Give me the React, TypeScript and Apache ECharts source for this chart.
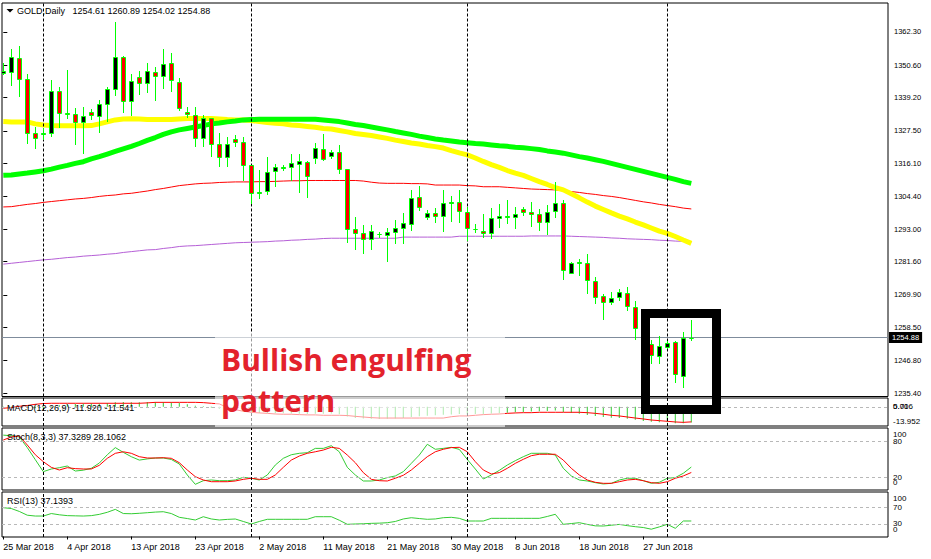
import React, { useEffect, useRef } from "react";
import * as echarts from "echarts";

// ---------- data ----------
const DATE_LABELS = ["25 Mar 2018", "4 Apr 2018", "13 Apr 2018", "23 Apr 2018", "2 May 2018", "11 May 2018", "21 May 2018", "30 May 2018", "8 Jun 2018", "18 Jun 2018", "27 Jun 2018"];
const DATE_LABEL_IDX = [0, 8, 16, 24, 32, 40, 48, 56, 64, 72, 80];
const SEPARATOR_IDX = [5, 31, 58, 83];
const PRICE_TICKS = [1362.3, 1350.6, 1339.2, 1327.5, 1316.1, 1304.4, 1293.0, 1281.6, 1269.9, 1258.5, 1246.8, 1235.4];
const LAST_PRICE = 1254.88;

const OPEN = [
  1347.9, 1348.3, 1353.1, 1345.7, 1326.7, 1326.4, 1326.7, 1341.7, 1333.8, 1333.6,
  1330.8, 1334.1, 1332.8, 1336.9, 1342.3, 1353.4, 1338.2, 1346.4, 1344.3, 1348.3,
  1346.8, 1351.3, 1344.8, 1334.3, 1333.2, 1324.9, 1332.0, 1322.8, 1318.3, 1324.8,
  1323.5, 1315.4, 1305.6, 1306.4, 1313.4, 1314.5, 1314.7, 1315.8, 1316.5, 1317.9,
  1321.1, 1318.7, 1320.0, 1314.0, 1292.9, 1291.5, 1289.4, 1291.2, 1290.8, 1292.1,
  1293.3, 1294.7, 1304.2, 1297.2, 1298.6, 1297.7, 1302.2, 1302.4, 1299.1, 1293.1,
  1292.4, 1291.5, 1296.8, 1297.3, 1297.2, 1300.0, 1298.9, 1298.3, 1295.4, 1299.5,
  1302.3, 1277.7, 1281.2, 1281.0, 1274.7, 1269.5, 1267.4, 1269.3, 1270.4, 1265.7,
  1258.1, 1252.5, 1248.4, 1251.5, 1253.2, 1241.5, 1254.61,
];
const HIGH = [
  1351.3, 1356.3, 1357.4, 1347.4, 1328.8, 1328.7, 1345.4, 1343.1, 1348.9, 1335.5,
  1335.8, 1335.1, 1338.4, 1343.1, 1365.9, 1353.9, 1347.4, 1348.6, 1351.3, 1349.9,
  1356.3, 1354.8, 1346.0, 1335.8, 1336.0, 1333.1, 1332.2, 1326.9, 1325.3, 1326.1,
  1325.3, 1315.6, 1313.8, 1318.3, 1315.9, 1315.5, 1319.4, 1319.4, 1317.0, 1323.4,
  1326.4, 1320.8, 1322.6, 1314.2, 1297.2, 1294.5, 1294.5, 1292.1, 1293.3, 1296.2,
  1298.6, 1306.8, 1308.3, 1299.7, 1300.3, 1306.8, 1304.7, 1306.8, 1300.9, 1294.8,
  1298.3, 1300.3, 1301.8, 1303.2, 1300.9, 1300.9, 1302.4, 1300.1, 1301.5, 1309.5,
  1303.2, 1281.6, 1282.5, 1284.3, 1276.3, 1270.2, 1271.0, 1272.0, 1272.8, 1267.8,
  1259.0, 1254.0, 1255.4, 1253.7, 1253.7, 1256.9, 1260.89,
];
const LOW = [
  1347.6, 1343.7, 1339.9, 1323.4, 1321.4, 1324.7, 1325.9, 1329.0, 1332.0, 1322.9,
  1319.9, 1331.7, 1327.0, 1331.0, 1340.2, 1334.3, 1333.1, 1340.4, 1341.1, 1338.3,
  1342.7, 1341.4, 1334.9, 1332.5, 1322.3, 1322.3, 1318.8, 1315.3, 1315.3, 1322.3,
  1310.3, 1302.1, 1304.1, 1305.4, 1308.3, 1313.8, 1310.3, 1306.2, 1304.4, 1316.4,
  1317.3, 1317.9, 1312.6, 1288.6, 1286.0, 1284.7, 1286.0, 1290.1, 1281.9, 1288.0,
  1288.2, 1292.7, 1299.7, 1296.7, 1295.6, 1292.5, 1296.0, 1295.6, 1289.2, 1292.1,
  1290.3, 1289.8, 1293.9, 1295.1, 1293.3, 1298.0, 1294.2, 1292.7, 1291.3, 1297.4,
  1275.4, 1277.5, 1276.9, 1270.4, 1267.1, 1261.3, 1266.7, 1268.1, 1264.6, 1254.5,
  1250.5, 1245.8, 1245.8, 1251.1, 1239.4, 1237.6, 1254.02,
];
const CLOSE = [
  1348.6, 1353.4, 1345.7, 1326.7, 1324.9, 1326.7, 1341.7, 1333.7, 1333.3, 1330.8,
  1332.9, 1333.1, 1336.9, 1342.2, 1353.4, 1338.2, 1345.0, 1344.3, 1348.6, 1346.8,
  1350.9, 1345.3, 1335.5, 1333.4, 1324.9, 1332.0, 1322.8, 1318.3, 1322.8, 1323.5,
  1315.4, 1305.6, 1306.0, 1313.0, 1314.9, 1314.7, 1316.1, 1316.8, 1311.7, 1321.4,
  1317.8, 1320.2, 1314.0, 1292.9, 1291.7, 1289.4, 1292.4, 1291.4, 1292.1, 1293.3,
  1295.1, 1304.1, 1300.9, 1298.6, 1297.7, 1302.1, 1302.4, 1299.5, 1293.3, 1293.0,
  1291.5, 1296.8, 1297.6, 1297.5, 1298.3, 1299.1, 1298.2, 1295.4, 1299.1, 1302.3,
  1278.6, 1281.0, 1281.4, 1275.1, 1269.3, 1267.4, 1268.7, 1270.8, 1266.0, 1258.1,
  1252.5, 1248.8, 1252.0, 1253.1, 1242.0, 1254.6, 1254.88,
];

const MA_YELLOW = [
  1330.8, 1330.7, 1330.7, 1330.7, 1330.0, 1329.6, 1329.4, 1329.3, 1329.3, 1329.3,
  1329.3, 1329.4, 1330.0, 1330.7, 1331.4, 1331.7, 1331.8, 1331.7, 1331.5, 1331.5,
  1331.5, 1331.5, 1331.7, 1331.9, 1331.9, 1331.9, 1331.9, 1331.7, 1331.5, 1331.4,
  1331.4, 1331.2, 1330.8, 1330.5, 1330.2, 1330.0, 1329.6, 1329.4, 1329.1, 1328.8,
  1328.4, 1328.2, 1327.7, 1327.2, 1326.6, 1326.3, 1325.9, 1325.4, 1324.9, 1324.3,
  1323.8, 1323.3, 1322.9, 1322.4, 1322.0, 1321.5, 1320.6, 1319.8, 1319.1, 1318.0,
  1316.8, 1315.7, 1314.7, 1313.6, 1312.7, 1311.9, 1310.8, 1309.7, 1308.7, 1307.6,
  1306.8, 1305.4, 1304.0, 1302.5, 1301.1, 1299.9, 1298.7, 1297.6, 1296.6, 1295.5,
  1294.5, 1293.4, 1292.3, 1291.5, 1290.4, 1289.2, 1288.0,
];
const MA_GREEN = [
  1311.9, 1312.0, 1312.4, 1312.7, 1313.1, 1313.5, 1314.1, 1314.8, 1315.4, 1316.1,
  1316.7, 1317.7, 1318.5, 1319.4, 1320.3, 1321.2, 1322.1, 1323.1, 1324.2, 1325.2,
  1326.3, 1327.2, 1327.9, 1328.4, 1328.9, 1329.4, 1330.0, 1330.3, 1330.7, 1331.0,
  1331.4, 1331.5, 1331.6, 1331.6, 1331.6, 1331.6, 1331.6, 1331.6, 1331.6, 1331.6,
  1331.4, 1331.1, 1330.8, 1330.3, 1329.8, 1329.4, 1328.9, 1328.4, 1327.9, 1327.3,
  1326.8, 1326.3, 1325.7, 1325.2, 1324.7, 1324.3, 1324.0, 1323.6, 1323.4, 1323.1,
  1322.9, 1322.6, 1322.3, 1322.1, 1321.8, 1321.6, 1321.3, 1321.0, 1320.5, 1320.1,
  1319.7, 1319.1, 1318.5, 1318.0, 1317.4, 1316.8, 1316.1, 1315.4, 1314.7, 1314.0,
  1313.3, 1312.6, 1311.9, 1311.2, 1310.5, 1309.7, 1309.1,
];
const MA_RED = [
  1300.8, 1300.9, 1301.3, 1301.7, 1302.0, 1302.4, 1302.7, 1303.0, 1303.3, 1303.6,
  1303.8, 1304.1, 1304.5, 1304.8, 1305.0, 1305.4, 1305.6, 1306.0, 1306.4, 1306.9,
  1307.3, 1307.8, 1308.3, 1308.6, 1308.9, 1309.1, 1309.2, 1309.4, 1309.5, 1309.6,
  1309.6, 1309.6, 1309.7, 1309.7, 1309.8, 1309.9, 1310.0, 1310.0, 1310.1, 1310.1,
  1310.1, 1310.1, 1310.1, 1310.1, 1310.1, 1309.9, 1309.5, 1309.2, 1309.1, 1309.1,
  1309.1, 1309.0, 1309.0, 1308.9, 1308.5, 1308.5, 1308.5, 1308.5, 1308.3, 1308.2,
  1307.9, 1307.9, 1307.9, 1307.7, 1307.5, 1307.3, 1307.1, 1307.0, 1306.9, 1306.8,
  1306.5, 1306.2, 1305.9, 1305.5, 1305.2, 1304.8, 1304.5, 1304.1, 1303.6, 1303.1,
  1302.6, 1302.2, 1301.7, 1301.3, 1300.9, 1300.4, 1300.1,
];
const MA_PURPLE = [
  1280.7, 1281.0, 1281.3, 1281.6, 1281.9, 1282.2, 1282.4, 1282.7, 1283.0, 1283.2,
  1283.5, 1283.7, 1283.9, 1284.2, 1284.4, 1284.8, 1285.1, 1285.4, 1285.7, 1285.8,
  1286.2, 1286.5, 1286.9, 1287.1, 1287.2, 1287.4, 1287.6, 1287.8, 1288.0, 1288.2,
  1288.3, 1288.4, 1288.5, 1288.6, 1288.8, 1288.9, 1289.1, 1289.2, 1289.4, 1289.5,
  1289.7, 1289.8, 1289.8, 1289.8, 1289.8, 1289.8, 1289.8, 1289.8, 1289.8, 1289.8,
  1290.2, 1290.2, 1290.2, 1290.2, 1290.2, 1290.2, 1290.2, 1290.5, 1290.5, 1290.5,
  1290.5, 1290.5, 1290.5, 1290.5, 1290.5, 1290.5, 1290.6, 1290.6, 1290.6, 1290.6,
  1290.6, 1290.5, 1290.4, 1290.3, 1290.2, 1290.1, 1289.9, 1289.8, 1289.6, 1289.5,
  1289.4, 1289.3, 1289.1, 1289.0, 1288.8, 1288.7, 1288.4,
];

const MACD_MAIN = [
  -0.8, -0.3, 0.2, -0.5, -1.2, -1.5, 0.5, 1.2, 1.8, 2.2,
  2.5, 2.7, 2.8, 3.0, 3.5, 3.6, 3.5, 3.5, 3.6, 3.6,
  3.7, 3.5, 3.0, 2.0, 0.8, 0.5, -0.5, -1.5, -2.0, -2.5,
  -3.2, -4.2, -4.8, -5.0, -5.0, -5.0, -5.2, -5.3, -5.5, -5.3,
  -5.3, -5.2, -5.7, -7.5, -8.5, -9.0, -9.2, -9.3, -9.2, -9.0,
  -8.6, -7.8, -7.2, -6.8, -6.5, -6.0, -5.8, -5.6, -5.8, -5.6,
  -5.5, -5.2, -4.9, -4.5, -4.2, -3.9, -3.6, -3.4, -3.2, -2.9,
  -4.0, -4.8, -5.4, -6.2, -7.0, -7.8, -8.3, -8.6, -9.2, -10.0,
  -10.8, -11.5, -11.8, -11.8, -12.5, -12.6, -11.92,
];
const MACD_SIGNAL = [
  -1.1, -0.6, 0.4, 1.0, 1.9, 2.5, 2.7, 2.7, 2.7, 2.7,
  2.7, 2.7, 2.7, 2.7, 2.7, 2.7, 2.7, 2.7, 3.0, 3.4,
  3.4, 3.4, 3.4, 3.4, 3.4, 3.2, 2.7, 2.2, -0.5, -2.2,
  -3.4, -4.2, -4.7, -5.0, -5.5, -5.7, -5.7, -6.0, -6.2, -6.2,
  -6.5, -6.5, -6.5, -6.7, -7.3, -7.8, -8.3, -8.6, -8.6, -8.6,
  -8.6, -8.6, -8.6, -8.6, -8.6, -8.6, -7.6, -7.0, -7.0, -6.5,
  -6.0, -5.7, -5.5, -5.0, -4.7, -4.5, -4.5, -4.2, -4.2, -4.2,
  -4.2, -4.2, -4.2, -4.5, -5.0, -5.7, -6.5, -7.0, -7.8, -8.6,
  -9.3, -10.1, -10.6, -11.1, -11.6, -11.9, -11.541,
];
const STOCH_K = [
  91, 90, 88, 70, 49.7, 29.5, 34, 36.2, 39, 30.6,
  32, 35.2, 44, 58, 70, 62, 54.7, 49, 51, 52.5,
  52.5, 50, 42.4, 23.9, 8.2, 14.3, 15.5, 14.3, 14.3, 15.5,
  20, 18.4, 15.5, 23.9, 40.7, 52, 58, 60.4, 61.4, 68.7,
  68.7, 73.2, 63, 36.8, 23.9, 13.8, 13.8, 15.5, 19.5, 22.3,
  29.5, 43.5, 57.5, 75.6, 67.2, 68.7, 70.5, 67, 50, 34,
  17.2, 23.9, 31.7, 40.7, 48, 54.7, 60.4, 60.4, 60.4, 57.5,
  35.2, 22.3, 15.5, 13.8, 11, 8.8, 9.9, 15.5, 18.4, 18.4,
  14.3, 9.9, 11.6, 18.4, 19.5, 26.8, 37.3289,
];
const STOCH_D = [
  82.8, 88, 89.6, 74.4, 58, 46.3, 36.8, 32.3, 36.2, 34.6,
  34, 34, 40.2, 52, 60.4, 63, 60.4, 54.7, 52.5, 52.5,
  53, 52, 44.6, 32.3, 21.1, 15.5, 12.6, 12.6, 12.6, 13.8,
  16.6, 18.4, 16.6, 16.6, 23.9, 36.8, 49, 55.8, 60.4, 63,
  65.9, 70.5, 68.7, 57.5, 44.6, 27.9, 16.6, 14.3, 13.8, 18.4,
  23.4, 32.3, 43.5, 54.7, 63, 67.2, 70, 70.5, 63, 46.3,
  32.3, 25.6, 27.9, 35.2, 43.5, 50.3, 56.4, 58.8, 58.8, 58.8,
  49, 35.2, 23.9, 15.5, 11.6, 9.9, 9.9, 12.6, 15.5, 16.6,
  14.3, 11, 9.9, 12.6, 18.4, 22.3, 28.1062,
];
const RSI = [
  69, 67, 60, 51, 49, 49, 55, 52, 50, 49.5,
  49, 50, 53, 58, 65, 55, 54.5, 55.6, 57, 58.5,
  59.4, 55, 46, 43, 39.5, 47.4, 42, 39.5, 41, 41.9,
  36, 30, 36, 41.2, 41.2, 41.2, 41.2, 41.2, 41.2, 47.4,
  47.4, 47.4, 39, 29.2, 30, 30.5, 31.5, 32, 33, 36,
  42, 45, 43, 41.2, 42, 45, 46, 43.5, 37.1, 37.1,
  37.1, 43.5, 43.5, 43.5, 43.5, 43.5, 43.5, 43.5, 48, 53.2,
  29.2, 31, 33.1, 29, 25.5, 25.1, 27, 29, 26, 23.5,
  21.5, 17.5, 23, 29.2, 19.6, 37.1, 37.1393,
];
// sub-window scale labels: [middle levels, top label, bottom label]
const MACD_MID_TICKS = [0];
const MACD_TOP_TICK = 5.716;
const MACD_BOTTOM_TICK = -13.952;
const STOCH_MID_TICKS = [80, 20];
const STOCH_TOP_TICK = 100;
const STOCH_BOTTOM_TICK = 0;
const RSI_MID_TICKS = [70, 30];
const RSI_TOP_TICK = 100;
const RSI_BOTTOM_TICK = 0;
const STOCH_LEVELS = [80, 20];
const RSI_LEVELS = [70, 30];

// ---------- layout ----------
const FONT = '"Liberation Sans", Arial, sans-serif';
const GRID_LEFT = 2;
const GRID_WIDTH = 886;
const BAR_PX = 8;
const X_MIN = -(3.3 - GRID_LEFT) / BAR_PX;
const X_MAX = X_MIN + GRID_WIDTH / BAR_PX;
const SUB_RANGES: [number, number][] = [
  [-14.69, 6.73],
  [-1.35, 103.0],
  [-1.2, 106.6],
];

const pair = (arr: number[]) => arr.map((v, i) => [i, v]);

export default function App() {
  const ref = useRef<HTMLDivElement>(null);
  useEffect(() => {
    document.body.style.margin = "0";
    const chart = echarts.init(ref.current!, null, { renderer: "svg" });

    const grids = [
      { top: 3, height: 393.5 },
      { top: 398, height: 28 },
      { top: 428, height: 62 },
      { top: 492, height: 45 },
    ].map((g) => ({
      ...g,
      left: GRID_LEFT,
      width: GRID_WIDTH,
      show: true,
      borderColor: "#000",
      borderWidth: 1,
      backgroundColor: "#fff",
      containLabel: false,
      outerBoundsMode: "none",
    }));

    const xAxes = grids.map((_, gi) => ({
      type: "value",
      gridIndex: gi,
      min: X_MIN,
      max: X_MAX,
      axisLine: { show: false },
      splitLine: { show: false },
      axisTick:
        gi === 3
          ? { show: true, customValues: DATE_LABEL_IDX, length: 3, lineStyle: { color: "#000" } }
          : { show: false },
      axisLabel:
        gi === 3
          ? {
              show: true,
              customValues: DATE_LABEL_IDX,
              hideOverlap: false,
              formatter: (v: number) => {
                const i = DATE_LABEL_IDX.indexOf(Math.round(v));
                return i >= 0 ? DATE_LABELS[i] : "";
              },
              align: "left",
              fontSize: 9,
              fontFamily: FONT,
              color: "#000",
              margin: 5,
            }
          : { show: false },
    }));

    const baseY = (gi: number, min: number, max: number) => ({
      type: "value",
      gridIndex: gi,
      position: "right",
      min,
      max,
      axisLine: { show: false },
      splitLine: { show: false },
      axisTick: { show: false },
    });

    const subAxis = (
      gi: number,
      ticks: number[],
      fmt: (v: number) => string,
      vAlign: string,
      padding: number[]
    ) => {
      const [mn, mx] = SUB_RANGES[gi - 1];
      return {
        ...baseY(gi, mn, mx),
        axisLabel: {
          customValues: ticks,
          hideOverlap: false,
          showMinLabel: true,
          showMaxLabel: true,
          fontSize: 8,
          fontFamily: FONT,
          color: "#000",
          margin: 5,
          verticalAlign: vAlign,
          padding,
          formatter: fmt,
        },
      };
    };
    const macdFmt = (v: number) => (v === 0 ? "0.00" : String(v));
    const plain = (v: number) => String(v);

    const yAxes = [
      {
        ...baseY(0, 1234.17, 1372.49),
        axisTick: { show: true, customValues: PRICE_TICKS, length: 4, lineStyle: { color: "#000" } },
        axisLabel: {
          customValues: PRICE_TICKS,
          hideOverlap: false,
          formatter: (v: number) => v.toFixed(2),
          fontSize: 7.5,
          fontFamily: FONT,
          color: "#000",
          margin: 6,
        },
      },
      subAxis(1, MACD_MID_TICKS, macdFmt, "middle", [0, 0, 0, 0]),
      subAxis(2, STOCH_MID_TICKS, plain, "middle", [0, 0, 0, 0]),
      subAxis(3, RSI_MID_TICKS, plain, "middle", [0, 0, 0, 0]),
      subAxis(1, [MACD_TOP_TICK], macdFmt, "top", [3, 0, 0, 0]),
      subAxis(1, [MACD_BOTTOM_TICK], macdFmt, "bottom", [0, 0, 0, 0]),
      subAxis(2, [STOCH_TOP_TICK], plain, "top", [1, 0, 0, 0]),
      subAxis(2, [STOCH_BOTTOM_TICK], plain, "bottom", [0, 0, 3, 0]),
      subAxis(3, [RSI_TOP_TICK], plain, "top", [0, 0, 0, 0]),
      subAxis(3, [RSI_BOTTOM_TICK], plain, "bottom", [0, 0, 3, 0]),
    ];

    const sepLines = SEPARATOR_IDX.map((x) => ({
      xAxis: x,
      lineStyle: { color: "#000", type: [3, 2], width: 1 },
    }));
    const levelLines = (levels: number[]) =>
      levels.map((y) => ({ yAxis: y, lineStyle: { color: "#b8b8b8", type: [3, 3], width: 1 } }));
    const mk = (data: any[]) => ({
      silent: true,
      symbol: ["none", "none"],
      label: { show: false },
      data,
    });

    const lineS = (name: string, gi: number, data: number[], color: string, width: number, z: number, markLine?: any) => ({
      name,
      type: "line",
      xAxisIndex: gi,
      yAxisIndex: gi,
      data: pair(data),
      showSymbol: false,
      symbol: "none",
      lineStyle: { color, width },
      z,
      ...(markLine ? { markLine } : {}),
    });

    const candleData = OPEN.map((o, i) => [i, o, CLOSE[i], LOW[i], HIGH[i]]);

    const option: any = {
      animation: false,
      backgroundColor: "#fff",
      grid: grids,
      xAxis: xAxes,
      yAxis: yAxes,
      series: [
        lineS("MA purple", 0, MA_PURPLE, "#b55fd6", 1, 1, {
          ...mk([
            ...sepLines,
            {
              yAxis: LAST_PRICE,
              lineStyle: { color: "#7f8c9c", type: "solid", width: 1 },
              label: {
                show: true,
                position: "end",
                formatter: LAST_PRICE.toFixed(2),
                backgroundColor: "#000",
                color: "#fff",
                fontSize: 7.5,
                fontFamily: FONT,
                padding: [2, 3, 1, 3],
                distance: 1,
              },
            },
          ]),
        }),
        lineS("MA red", 0, MA_RED, "#ff0000", 1, 2),
        lineS("MA yellow", 0, MA_YELLOW, "#ffff00", 5, 2),
        lineS("MA green", 0, MA_GREEN, "#00ff00", 5, 2),
        {
          name: "GOLD",
          type: "custom",
          xAxisIndex: 0,
          yAxisIndex: 0,
          data: candleData,
          encode: { x: 0, y: [1, 2, 3, 4] },
          z: 5,
          clip: true,
          renderItem: (_params: any, api: any) => {
            const k = api.value(0);
            const o = api.value(1);
            const c = api.value(2);
            const l = api.value(3);
            const h = api.value(4);
            const pO = api.coord([k, o]);
            const pC = api.coord([k, c]);
            const pL = api.coord([k, l]);
            const pH = api.coord([k, h]);
            const cx = Math.round(pO[0]) + 0.5;
            const top = Math.round(Math.min(pO[1], pC[1])) + 0.5;
            const bot = Math.round(Math.max(pO[1], pC[1])) + 0.5;
            const bull = c >= o;
            return {
              type: "group",
              children: [
                {
                  type: "line",
                  shape: { x1: cx, y1: Math.round(pH[1]), x2: cx, y2: Math.round(pL[1]) + 1 },
                  style: { stroke: "#00ff00", lineWidth: 1 },
                },
                {
                  type: "rect",
                  shape: { x: cx - 2, y: top, width: 4, height: Math.max(bot - top, 0) },
                  style: { fill: bull ? "#000" : "#ff0000", stroke: "#00ff00", lineWidth: 1 },
                },
              ],
            };
          },
        },
        {
          name: "MACD",
          type: "bar",
          xAxisIndex: 1,
          yAxisIndex: 1,
          data: pair(MACD_MAIN),
          barWidth: 1,
          itemStyle: { color: "#33cc33" },
          z: 2,
          markLine: mk([...sepLines, ...levelLines([0])]),
        },
        lineS("MACD signal", 1, MACD_SIGNAL, "#ff0000", 1, 3),
        lineS("Stoch signal", 2, STOCH_D, "#ff0000", 1, 3, mk([...sepLines, ...levelLines(STOCH_LEVELS)])),
        lineS("Stoch main", 2, STOCH_K, "#33cc33", 1, 2),
        lineS("RSI", 3, RSI, "#33cc33", 1, 2, mk([...sepLines, ...levelLines(RSI_LEVELS)])),
      ],
      graphic: [
        {
          type: "polygon",
          z: 100,
          shape: { points: [[6.5, 9], [13.5, 9], [10, 12.5]] },
          style: { fill: "#000" },
        },
        {
          type: "text",
          z: 100,
          x: 17,
          y: 11,
          style: { text: "GOLD,Daily   1254.61 1260.89 1254.02 1254.88", font: "9px " + FONT, fill: "#000", verticalAlign: "middle" },
        },
        {
          type: "text",
          z: 100,
          x: 7,
          y: 407.5,
          style: { text: "MACD(12,26,9) -11.920 -11.541", font: "9px " + FONT, fill: "#000", verticalAlign: "middle" },
        },
        {
          type: "text",
          z: 100,
          x: 7,
          y: 437,
          style: { text: "Stoch(8,3,3) 37.3289 28.1062", font: "9px " + FONT, fill: "#000", verticalAlign: "middle" },
        },
        {
          type: "text",
          z: 100,
          x: 7,
          y: 501,
          style: { text: "RSI(13) 37.1393", font: "9px " + FONT, fill: "#000", verticalAlign: "middle" },
        },
        {
          type: "rect",
          z: 101,
          shape: { x: 215, y: 332, width: 290, height: 95 },
          style: { fill: "rgba(255,255,255,0.6)" },
        },
        {
          type: "text",
          z: 102,
          x: 221,
          y: 359,
          style: {
            text: "Bullish engulfing",
            font: 'bold 30px "Open Sans", sans-serif',
            fill: "#e3222c",
            verticalAlign: "middle",
          },
        },
        {
          type: "text",
          z: 102,
          x: 221,
          y: 400,
          style: {
            text: "pattern",
            font: 'bold 30px "Open Sans", sans-serif',
            fill: "#e3222c",
            verticalAlign: "middle",
          },
        },
        {
          type: "rect",
          z: 103,
          shape: { x: 645.5, y: 313.5, width: 71, height: 96 },
          style: { fill: "none", stroke: "#000", lineWidth: 9 },
        },
      ],
    };

    chart.setOption(option);
    return () => chart.dispose();
  }, []);

  return <div ref={ref} style={{ width: 931, height: 559 }} />;
}
